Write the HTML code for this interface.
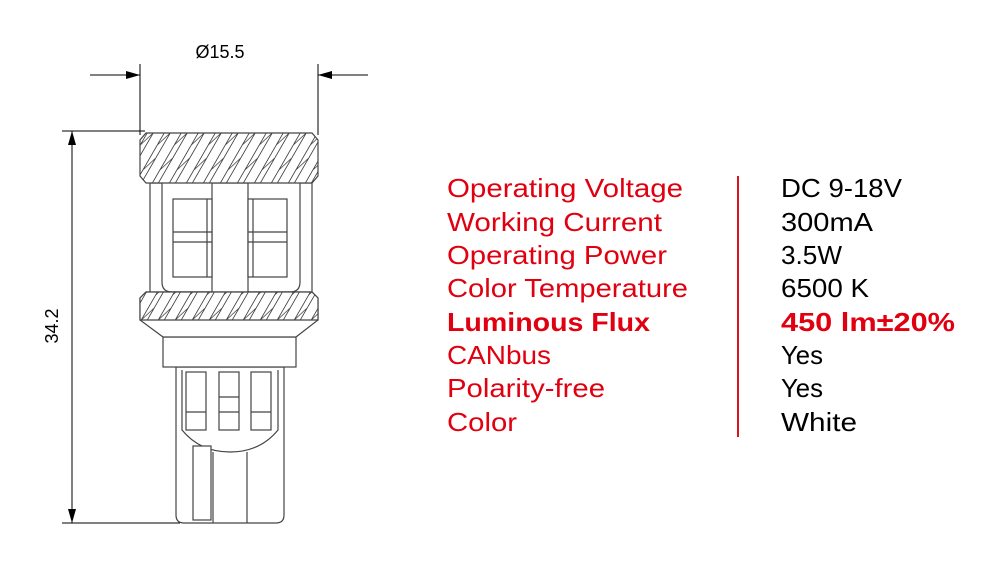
<!DOCTYPE html>
<html><head><meta charset="utf-8"><style>html,body{margin:0;padding:0;background:#fff}svg{display:block}</style></head>
<body>
<svg width="984" height="579" viewBox="0 0 984 579" xmlns="http://www.w3.org/2000/svg">
<defs>
<pattern id="kn" patternUnits="userSpaceOnUse" width="17" height="50" patternTransform="skewX(-30)">
<rect width="17" height="50" fill="#fff"/>
<path d="M3 0 L3 50 M9 0 L9 50 M3 20 L9 8 M3 45 L9 33" stroke="#444" stroke-width="1" fill="none"/>
</pattern>
<marker id="ar" markerWidth="14" markerHeight="8" refX="14" refY="4" orient="auto" markerUnits="userSpaceOnUse"><path d="M0 0 L14 4 L0 8 Z" fill="#000"/></marker>
</defs>
<g stroke="#000" stroke-width="1" fill="none">
<line x1="90" y1="75" x2="140" y2="75" marker-end="url(#ar)"/>
<line x1="368" y1="75" x2="318" y2="75" marker-end="url(#ar)"/>
<line x1="140" y1="64" x2="140" y2="135"/>
<line x1="318" y1="64" x2="318" y2="135"/>
<line x1="72" y1="327" x2="72" y2="131" marker-end="url(#ar)"/>
<line x1="72" y1="327" x2="72" y2="523" marker-end="url(#ar)"/>
<line x1="62" y1="131" x2="145" y2="131"/>
<line x1="62" y1="523" x2="180" y2="523"/>
</g>
<text x="220" y="58" font-family="Liberation Sans, sans-serif" font-size="18" text-anchor="middle">Ø15.5</text>
<text transform="translate(58,326) rotate(-90)" font-family="Liberation Sans, sans-serif" font-size="18" text-anchor="middle">34.2</text>
<g stroke="#444" stroke-width="1.2" fill="#fff">
<path d="M176 367 L176 515 Q176 523 184 523 L276 523 Q284 523 284 515 L284 367 Z"/>
<path d="M182 370 L182 430 Q200 452 230 452 Q260 452 278 430 L278 370"/>
<rect x="186" y="372" width="20" height="58"/><rect x="219" y="372" width="20" height="58"/><rect x="251" y="372" width="20" height="58"/>
<line x1="186" y1="412" x2="206" y2="412"/><line x1="219" y1="397" x2="239" y2="397"/><line x1="219" y1="412" x2="239" y2="412"/><line x1="251" y1="412" x2="271" y2="412"/>
<rect x="193" y="446" width="18" height="74"/><line x1="213" y1="452" x2="213" y2="523"/><line x1="247" y1="452" x2="247" y2="523"/>
<rect x="163" y="337" width="133" height="30"/>
<rect x="150" y="183" width="162" height="110"/>
<path d="M162 183 L162 282 Q162 292 172 292 L212 292 L212 183"/>
<path d="M248 183 L248 292 L290 292 Q300 292 300 282 L300 183"/>
<rect x="173" y="199" width="39" height="78"/><rect x="248" y="199" width="39" height="78"/>
<line x1="173" y1="232" x2="212" y2="232"/><line x1="173" y1="242" x2="212" y2="242"/>
<line x1="248" y1="232" x2="287" y2="232"/><line x1="248" y1="242" x2="287" y2="242"/>
<line x1="207" y1="199" x2="207" y2="277"/><line x1="253" y1="199" x2="253" y2="277"/>
<path d="M146 133 L312 133 L318 140 L318 176 L312 183 L146 183 L140 176 L140 140 Z" fill="url(#kn)"/>
<path d="M146 292 L312 292 L318 298 L318 320 L296 337 L163 337 L140 320 L140 298 Z" fill="#fff"/>
<path d="M146 292 L312 292 L318 298 L318 320 L140 320 L140 298 Z" fill="url(#kn)"/>
</g>
<line x1="738" y1="176" x2="738" y2="437" stroke="#d9141b" stroke-width="2"/>
<g font-family="Liberation Sans, sans-serif" font-size="26" fill="#e00010">
<text x="447" y="197" textLength="236" lengthAdjust="spacingAndGlyphs">Operating Voltage</text>
<text x="447" y="231" textLength="215" lengthAdjust="spacingAndGlyphs">Working Current</text>
<text x="447" y="264" textLength="220" lengthAdjust="spacingAndGlyphs">Operating Power</text>
<text x="447" y="297" textLength="241" lengthAdjust="spacingAndGlyphs">Color Temperature</text>
<text x="447" y="331" textLength="203" lengthAdjust="spacingAndGlyphs" font-weight="bold">Luminous Flux</text>
<text x="447" y="364" textLength="104" lengthAdjust="spacingAndGlyphs">CANbus</text>
<text x="447" y="397" textLength="158" lengthAdjust="spacingAndGlyphs">Polarity-free</text>
<text x="447" y="431" textLength="70" lengthAdjust="spacingAndGlyphs">Color</text>
</g>
<g font-family="Liberation Sans, sans-serif" font-size="26" fill="#000">
<text x="781" y="197" textLength="121" lengthAdjust="spacingAndGlyphs">DC 9-18V</text>
<text x="781" y="231" textLength="92" lengthAdjust="spacingAndGlyphs">300mA</text>
<text x="781" y="264" textLength="61" lengthAdjust="spacingAndGlyphs">3.5W</text>
<text x="781" y="297" textLength="88" lengthAdjust="spacingAndGlyphs">6500 K</text>
<text x="781" y="331" textLength="174" lengthAdjust="spacingAndGlyphs" font-weight="bold" fill="#e00010">450 lm±20%</text>
<text x="781" y="364" textLength="42" lengthAdjust="spacingAndGlyphs">Yes</text>
<text x="781" y="397" textLength="42" lengthAdjust="spacingAndGlyphs">Yes</text>
<text x="781" y="431" textLength="76" lengthAdjust="spacingAndGlyphs">White</text>
</g>
</svg>
</body></html>
